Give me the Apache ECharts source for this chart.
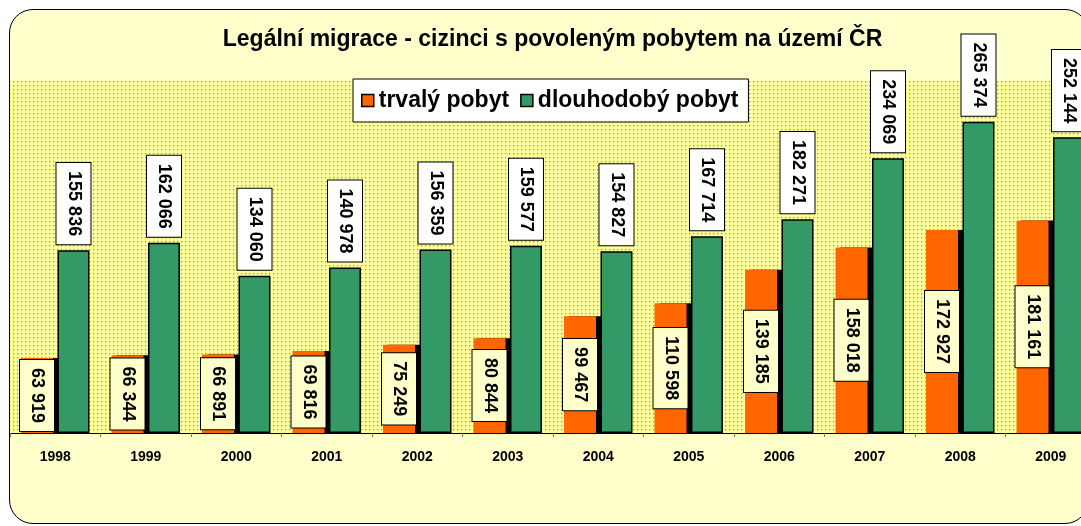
<!DOCTYPE html>
<html>
<head>
<meta charset="utf-8">
<script src="https://cdn.jsdelivr.net/npm/echarts@6/dist/echarts.min.js"></script>
<style>
  html, body { margin: 0; padding: 0; background: #fff; overflow: hidden; width: 1081px; height: 526px; }
  #frame { position: absolute; left: 9px; top: 9px; width: 1078px; height: 513px; border: 1px solid #000; border-radius: 24px; background: #FFFFCC; }
  #chart { position: absolute; left: 0; top: 0; width: 1105px; height: 526px; }
</style>
</head>
<body>
<div id="frame"></div>
<div id="chart"></div>
<script>
var roky = ['1998', '1999', '2000', '2001', '2002', '2003', '2004', '2005', '2006', '2007', '2008', '2009'];
var trvalyPobyt = [63919, 66344, 66891, 69816, 75249, 80844, 99467, 110598, 139185, 158018, 172927, 181161];
var dlouhodobyPobyt = [155836, 162066, 134060, 140978, 156359, 159577, 154827, 167714, 182271, 234069, 265374, 252144];
var osaMax = 300000;

var FONT = 'Arial, "Liberation Sans", sans-serif';

// tisice oddelene mezerou
function fmt(v) {
	return String(v).replace(/\B(?=(\d{3})+(?!\d))/g, ' ');
}

// teckovany vzor plochy grafu
function makeDots() {
	var c = document.createElement('canvas');
	c.width = 4; c.height = 4;
	var ctx = c.getContext('2d');
	ctx.fillStyle = '#FFFF99';
	ctx.fillRect(0, 0, 4, 4);
	ctx.fillStyle = '#C9D3DA';
	ctx.fillRect(2, 1, 1, 1);
	ctx.fillRect(1, 2, 1, 1);
	ctx.fillStyle = '#6F95F2';
	ctx.fillRect(1, 1, 1, 1);
	return c;
}

var chart = echarts.init(document.getElementById('chart'));

var option = {
	backgroundColor: 'transparent',
	animation: false,
	title: {
		text: 'Legální migrace - cizinci s povoleným pobytem na území ČR',
		left: 'center',
		top: 28,
		padding: 0,
		textStyle: { fontFamily: FONT, fontSize: 23, fontWeight: 'bold', color: '#000' }
	},
	legend: {
		left: 353,
		top: 79,
		padding: [10, 10, 10, 8],
		itemGap: 11,
		itemWidth: 12,
		itemHeight: 12,
		icon: 'rect',
		backgroundColor: '#fff',
		borderColor: '#000',
		borderWidth: 1,
		borderRadius: 0,
		textStyle: { fontFamily: FONT, fontSize: 23, fontWeight: 'bold', color: '#000' },
		data: [
			{ name: 'trvalý pobyt', itemStyle: { borderColor: '#000', borderWidth: 1.5 } },
			{ name: 'dlouhodobý pobyt', itemStyle: { borderColor: '#000', borderWidth: 1.5 } }
		]
	},
	grid: {
		left: 10,
		top: 81,
		width: 1086,
		height: 352,
		show: true,
		borderWidth: 0,
		backgroundColor: { image: makeDots(), repeat: 'repeat' }
	},
	xAxis: {
		type: 'category',
		data: roky,
		axisLine: { lineStyle: { color: '#000', width: 1 } },
		axisTick: { show: true, length: 4, lineStyle: { color: '#777' } },
		axisLabel: { fontFamily: FONT, fontSize: 14, fontWeight: 'bold', color: '#000', margin: 17 }
	},
	yAxis: {
		type: 'value',
		min: 0,
		max: osaMax,
		show: false,
		splitLine: { show: false }
	},
	series: [
		{
			name: 'trvalý pobyt',
			type: 'bar',
			data: trvalyPobyt,
			barWidth: 32,
			barGap: '14%',
			itemStyle: {
				color: '#FF6600',
				borderWidth: 0,
				shadowColor: '#000',
				shadowOffsetX: 5,
				shadowOffsetY: 0,
				shadowBlur: 0
			},
			label: {
				show: true,
				position: 'inside',
				rotate: -90,
				align: 'center',
				verticalAlign: 'middle',
				formatter: function(p) { return fmt(p.value); },
				fontFamily: FONT,
				fontSize: 18,
				fontWeight: 'bold',
				color: '#000',
				lineHeight: 20,
				backgroundColor: '#FFFFCC',
				borderColor: '#000',
				borderWidth: 1,
				padding: [7, 8]
			}
		},
		{
			name: 'dlouhodobý pobyt',
			type: 'bar',
			data: dlouhodobyPobyt,
			barWidth: 32,
			itemStyle: {
				color: '#339966',
				borderColor: '#000',
				borderWidth: 1.5
			},
			label: {
				show: true,
				position: 'top',
				distance: 6,
				rotate: -90,
				align: 'right',
				verticalAlign: 'middle',
				formatter: function(p) { return fmt(p.value); },
				fontFamily: FONT,
				fontSize: 18,
				fontWeight: 'bold',
				color: '#000',
				lineHeight: 20,
				backgroundColor: '#fff',
				borderColor: '#000',
				borderWidth: 1,
				padding: [7, 8]
			}
		}
	]
};

chart.setOption(option);
</script>
</body>
</html>
